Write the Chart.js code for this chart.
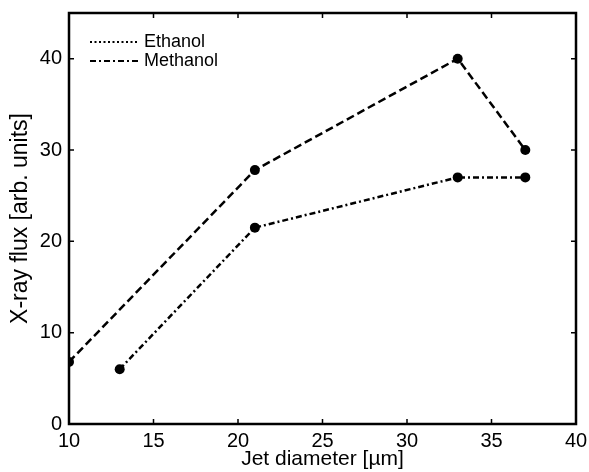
<!DOCTYPE html>
<html>
<head>
<meta charset="utf-8">
<script src="https://cdn.jsdelivr.net/npm/chart.js@4/dist/chart.umd.min.js"></script>
<style>
  html, body { margin: 0; padding: 0; background: #fff; }
  #wrap { width: 589px; height: 472px; }
</style>
</head>
<body>
<div id="wrap"><canvas id="chart"></canvas></div>
<script>
const ethanolX = [10, 21, 33, 37];
const ethanolY = [6.8, 27.8, 40, 30];
const methanolX = [13, 21, 33, 37];
const methanolY = [6, 21.5, 27, 27];
const xTicks = [10, 15, 20, 25, 30, 35, 40];
const yTicks = [0, 10, 20, 30, 40];

const FONT = 'Liberation Sans, Arial, sans-serif';

function toPoints(xs, ys) {
    return xs.map((x, i) => ({ x: x, y: ys[i] }));
}

// MATLAB-style box with inward ticks on all four sides
const boxPlugin = {
    id: 'box',
    afterDatasetsDraw(chart) {
        const ctx = chart.ctx;
        const a = chart.chartArea;
        const xs = chart.scales.x, ys = chart.scales.y;
        ctx.save();
        ctx.strokeStyle = '#000';
        ctx.lineWidth = 1.5;
        ctx.setLineDash([]);
        const len = 5;
        ctx.beginPath();
        xTicks.forEach(v => {
            const px = xs.getPixelForValue(v);
            ctx.moveTo(px, a.bottom); ctx.lineTo(px, a.bottom - len);
            ctx.moveTo(px, a.top); ctx.lineTo(px, a.top + len);
        });
        yTicks.forEach(v => {
            const py = ys.getPixelForValue(v);
            ctx.moveTo(a.left, py); ctx.lineTo(a.left + len, py);
            ctx.moveTo(a.right, py); ctx.lineTo(a.right - len, py);
        });
        ctx.stroke();
        ctx.lineWidth = 2.5;
        ctx.strokeRect(a.left, a.top, a.right - a.left, a.bottom - a.top);
        ctx.restore();
    }
};

// legend as in the figure (dotted / dash-dot samples)
const legendPlugin = {
    id: 'figLegend',
    afterDraw(chart) {
        const ctx = chart.ctx;
        const a = chart.chartArea;
        const styles = [[2, 2.5], [6, 3, 2, 3]];
        ctx.save();
        ctx.font = '18px ' + FONT;
        ctx.textBaseline = 'middle';
        ctx.fillStyle = '#000';
        chart.data.datasets.forEach((ds, i) => {
            const y = a.top + 29 + i * 19;
            ctx.strokeStyle = '#000';
            ctx.lineWidth = 2;
            ctx.setLineDash(styles[i]);
            ctx.beginPath();
            ctx.moveTo(a.left + 21, y);
            ctx.lineTo(a.left + 69, y);
            ctx.stroke();
            ctx.fillText(ds.label, a.left + 75, y);
        });
        ctx.restore();
    }
};

new Chart(document.getElementById('chart'), {
    type: 'line',
    data: {
        datasets: [
            {
                label: 'Ethanol',
                data: toPoints(ethanolX, ethanolY),
                borderColor: '#000',
                backgroundColor: '#000',
                borderWidth: 2.5,
                borderDash: [8, 4],
                pointRadius: 5,
                pointBorderWidth: 0,
                tension: 0
            },
            {
                label: 'Methanol',
                data: toPoints(methanolX, methanolY),
                borderColor: '#000',
                backgroundColor: '#000',
                borderWidth: 2.5,
                borderDash: [6, 3, 2, 3],
                pointRadius: 5,
                pointBorderWidth: 0,
                tension: 0
            }
        ]
    },
    options: {
        responsive: true,
        maintainAspectRatio: false,
        animation: false,
        layout: { padding: { top: 13, right: 13, left: 0, bottom: 0 } },
        plugins: {
            legend: { display: false },
            tooltip: { enabled: false }
        },
        scales: {
            x: {
                type: 'linear',
                min: 10,
                max: 40,
                afterFit: s => { s.height = 48; s.paddingLeft = 0; s.paddingRight = 0; },
                afterBuildTicks: s => { s.ticks = xTicks.map(v => ({ value: v })); },
                grid: { display: false, drawTicks: false },
                border: { display: false },
                ticks: { color: '#000', padding: 5, maxRotation: 0, font: { family: FONT, size: 20 } },
                title: {
                    display: true,
                    text: 'Jet diameter [µm]',
                    color: '#000',
                    padding: { top: 0, bottom: 2 },
                    font: { family: FONT, size: 21, lineHeight: 1.0 }
                }
            },
            y: {
                min: 0,
                max: 45,
                afterFit: s => { s.width = 69; s.paddingTop = 0; s.paddingBottom = 0; },
                afterBuildTicks: s => { s.ticks = yTicks.map(v => ({ value: v })); },
                grid: { display: false, drawTicks: false },
                border: { display: false },
                ticks: { color: '#000', padding: 7, font: { family: FONT, size: 20 } },
                title: {
                    display: true,
                    text: 'X-ray flux [arb. units]',
                    color: '#000',
                    padding: { top: 9, bottom: 0 },
                    font: { family: FONT, size: 23, lineHeight: 1.0 }
                }
            }
        }
    },
    plugins: [boxPlugin, legendPlugin]
});
</script>
</body>
</html>
